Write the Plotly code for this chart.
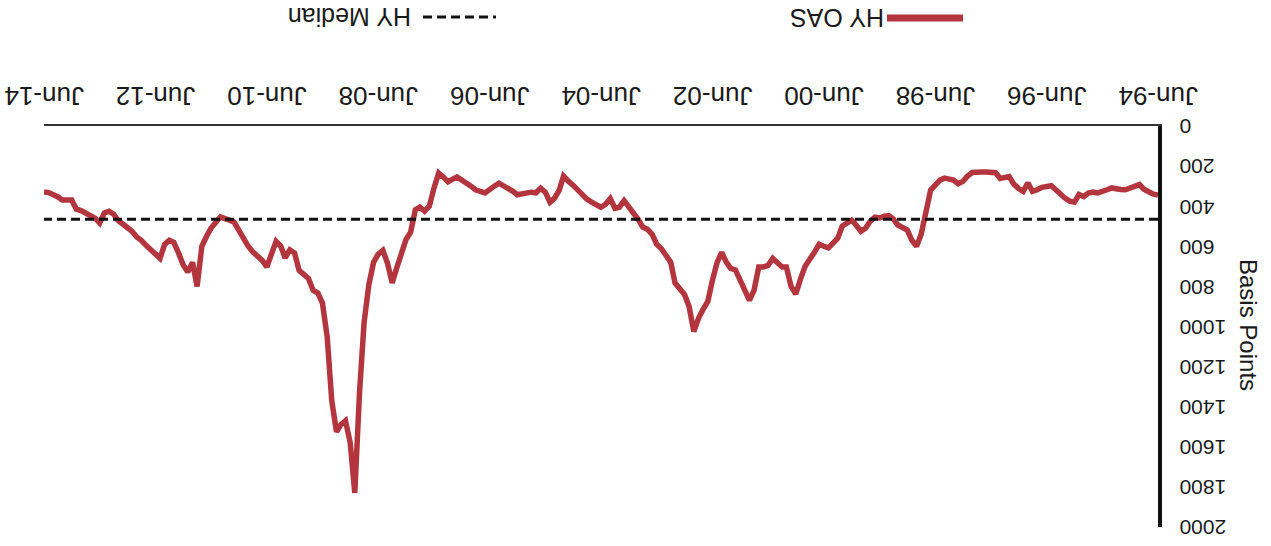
import pandas as pd
import plotly.graph_objects as go

# Monthly high-yield option-adjusted spread (basis points), Jun-94 .. Jun-14
months = pd.date_range("1994-06-01", "2014-06-01", freq="MS")
hy_oas = [
    344, 340, 328, 315, 292, 303, 310, 318, 317, 314,
    309, 318, 330, 334, 330, 335, 352, 342, 380, 375,
    360, 336, 318, 298, 300, 306, 318, 326, 284, 326,
    312, 290, 252, 258, 262, 233, 229, 229, 229, 229,
    232, 250, 276, 288, 270, 265, 260, 270, 295, 320,
    430, 540, 600, 570, 519, 509, 494, 465, 447, 450,
    459, 455, 475, 510, 525, 495, 470, 484, 500, 560,
    585, 608, 600, 590, 630, 668, 700, 765, 838, 800,
    703, 703, 680, 660, 695, 703, 703, 820, 870, 815,
    770, 718, 710, 680, 630, 680, 770, 875, 915, 960,
    1025, 900, 840, 810, 783, 680, 640, 612, 590, 540,
    515, 504, 465, 430, 398, 372, 405, 410, 362, 390,
    405, 395, 380, 365, 340, 310, 295, 275, 250, 320,
    360, 380, 330, 310, 333, 330, 335, 340, 343, 325,
    312, 295, 285, 300, 318, 334, 326, 318, 300, 283,
    265, 254, 266, 278, 255, 235, 310, 400, 425, 405,
    418, 530, 566, 630, 710, 783, 683, 620, 640, 680,
    793, 980, 1330, 1830, 1580, 1470, 1490, 1525, 1370, 1052,
    883, 833, 820, 760, 740, 720, 633, 618, 658, 600,
    575, 640, 703, 670, 650, 628, 600, 560, 515, 480,
    469, 460, 454, 480, 509, 550, 600, 800, 680, 728,
    693, 633, 580, 570, 590, 660, 640, 620, 595, 570,
    554, 525, 505, 485, 470, 440, 425, 434, 484, 460,
    445, 429, 422, 415, 369, 369, 369, 354, 340, 332,
    329,
]
hy_median = 465

tick_dates = pd.date_range("1994-06-01", "2014-06-01", freq="24MS")
tick_text = [d.strftime("%b-%y") for d in tick_dates]
y_ticks = list(range(0, 2001, 200))
# figure spaces keep the upside-down value labels flush against the axis
y_tick_text = ["\u2007" * (4 - len(str(v))) + str(v) for v in y_ticks]

RED = "#B3363F"
W, H = 1271, 546
M_L, M_R, M_T, M_B = 44, 113, 126, 19
PW, PH = W - M_L - M_R, H - M_T - M_B


def px(x):
    return (x - M_L) / PW


def py(y):
    return (H - M_B - y) / PH


fig = go.Figure()
fig.add_trace(go.Scatter(
    x=months, y=hy_oas, mode="lines", name="HY OAS",
    line=dict(color=RED, width=5.5), showlegend=False,
))
fig.add_trace(go.Scatter(
    x=[months[0], months[-1]], y=[hy_median, hy_median], mode="lines",
    name="HY Median", line=dict(color="#111111", width=3, dash="9px,5px"),
    showlegend=False,
))

font = "Liberation Sans, Arial, sans-serif"

fig.update_layout(
    width=W, height=H,
    margin=dict(l=M_L, r=M_R, t=M_T, b=M_B),
    paper_bgcolor="white", plot_bgcolor="white",
    font=dict(family=font, color="#1a1a1a"),
    xaxis=dict(
        range=[months[-1], months[0]], side="top", automargin=False,
        tickvals=tick_dates, ticktext=tick_text, tickangle=180,
        tickfont=dict(size=26), showgrid=False, zeroline=False,
        showline=True, linecolor="#333333", linewidth=2, ticks="",
        ticklabelshift=-40, ticklabelstandoff=1, ticklabeloverflow="allow",
    ),
    yaxis=dict(
        range=[2000, 0], side="right", automargin=False,
        tickvals=y_ticks, ticktext=y_tick_text, tickangle=180,
        tickfont=dict(size=21), showgrid=False, zeroline=False,
        showline=True, linecolor="#111111", linewidth=4, ticks="",
        ticklabelstandoff=60, ticklabelshift=-7, ticklabeloverflow="allow",
    ),
)

# Legend drawn upside down to match the rotated layout
fig.add_annotation(x=px(837), y=py(18), xref="paper", yref="paper",
                   xanchor="center", yanchor="middle",
                   text="HY OAS", textangle=180, showarrow=False,
                   font=dict(size=25))
fig.add_shape(type="line", xref="paper", yref="paper",
              x0=px(887), x1=px(963), y0=py(18), y1=py(18),
              line=dict(color=RED, width=7))
fig.add_annotation(x=px(350), y=py(17), xref="paper", yref="paper",
                   xanchor="center", yanchor="middle",
                   text="HY Median", textangle=180, showarrow=False,
                   font=dict(size=25))
fig.add_shape(type="line", xref="paper", yref="paper",
              x0=px(423), x1=px(496), y0=py(17), y1=py(17),
              line=dict(color="#111111", width=3, dash="9px,5px"))

fig.add_annotation(x=px(1249), y=py(325), xref="paper", yref="paper",
                   xanchor="center", yanchor="middle",
                   text="Basis Points", textangle=90, showarrow=False,
                   font=dict(size=24))

fig.write_html("out.html")
